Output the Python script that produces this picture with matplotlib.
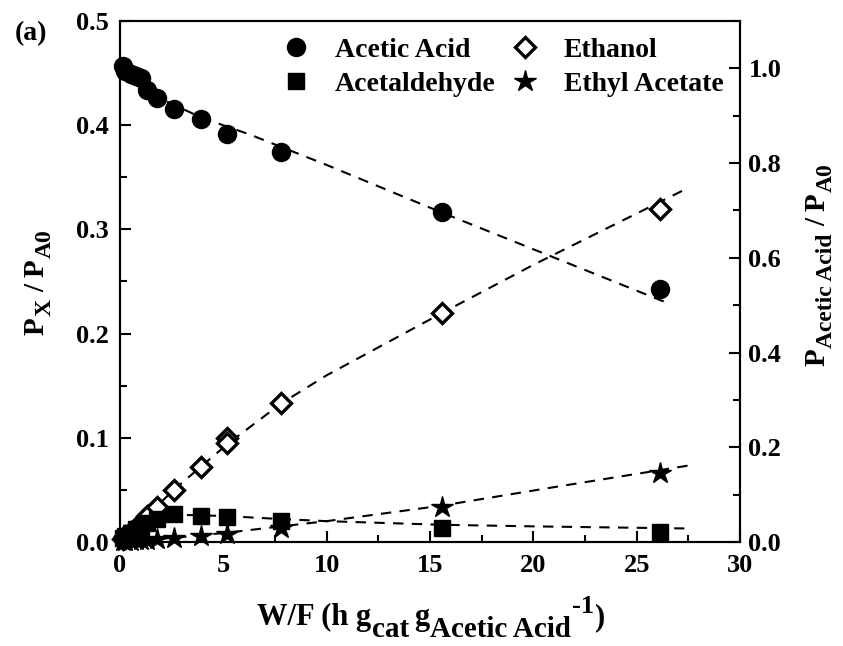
import numpy as np
import matplotlib
matplotlib.use("Agg")
import matplotlib.pyplot as plt
from matplotlib.ticker import MultipleLocator
from matplotlib.lines import Line2D
from matplotlib.transforms import IdentityTransform

plt.rcParams["font.family"] = ["Liberation Serif", "DejaVu Serif"]
plt.rcParams["font.weight"] = "bold"

# ----------------------------
# data
# ----------------------------
# W/F (h g_cat / g_acetic acid)
wf = [0.13, 0.26, 0.52, 0.78, 1.04, 1.3, 1.8, 2.6, 3.9, 5.2, 7.8, 15.6, 26.1]

# acetic acid, right axis units
acetic = [1.005, 0.994, 0.988, 0.983, 0.979, 0.955, 0.937, 0.915, 0.893, 0.862, 0.823, 0.697, 0.535]
# left axis units
acetaldehyde = [0.004, 0.006, 0.009, 0.012, 0.014, 0.018, 0.022, 0.027, 0.025, 0.024, 0.020, 0.013, 0.010]
ethyl_acetate = [0.001, 0.001, 0.001, 0.002, 0.002, 0.002, 0.003, 0.004, 0.006, 0.008, 0.013, 0.034, 0.066]

wf_eth = [0.13, 0.26, 0.52, 0.78, 1.04, 1.3, 1.8, 2.6, 3.9, 5.2, 5.2, 7.8, 15.6, 26.1]
ethanol = [0.003, 0.006, 0.010, 0.013, 0.018, 0.025, 0.034, 0.050, 0.072, 0.100, 0.095, 0.133, 0.220, 0.320]

# model fits (dashed)
fit_acetic_x = [0, 1, 2, 4, 6.3, 10, 15.6, 20, 26.4]
fit_acetic_y = [0.994, 0.968, 0.935, 0.895, 0.860, 0.796, 0.695, 0.618, 0.506]
fit_eth_x = [0, 2.6, 5.2, 7.8, 10, 15.6, 20, 27.3]
fit_eth_y = [0, 0.050, 0.094, 0.133, 0.160, 0.220, 0.266, 0.338]
fit_ald_x = [0, 0.5, 1, 2, 3, 5, 7.8, 10, 15.6, 20, 27.3]
fit_ald_y = [0, 0.010, 0.017, 0.024, 0.026, 0.025, 0.022, 0.020, 0.0165, 0.015, 0.013]
fit_ea_x = [0, 2.6, 5.2, 7.8, 10, 15.6, 20.8, 27.7]
fit_ea_y = [0, 0.004, 0.009, 0.015, 0.020, 0.035, 0.052, 0.074]


def rich_text(fig, pieces, center, base, rotation=0):
    """Lay out (text, size, baseline shift px, gap px) pieces in a row, in pixels."""
    renderer = fig.canvas.get_renderer()
    arts = []
    for s, size, dy, gap in pieces:
        t = fig.text(0, 0, s, fontsize=size, fontweight="bold", rotation=rotation,
                     rotation_mode="anchor", ha="left", va="baseline",
                     transform=IdentityTransform())
        bb = t.get_window_extent(renderer)
        adv = bb.height if rotation else bb.width
        arts.append((t, dy, gap, adv))
    total = sum(g + a for _, _, g, a in arts)
    pos = center - total / 2
    for t, dy, gap, adv in arts:
        pos += gap
        if rotation:
            t.set_position((base - dy, pos))
        else:
            t.set_position((pos, base + dy))
        pos += adv


# ----------------------------
# plot
# ----------------------------
fig = plt.figure(figsize=(8.43, 6.46), dpi=100)
ax = fig.add_axes([0.1423, 0.161, 0.7357, 0.8065])
ax2 = ax.twinx()

dash = (0, (5, 4))
lw = 1.5

ax2.plot(fit_acetic_x, fit_acetic_y, color="black", lw=lw, ls=dash)
ax.plot(fit_eth_x, fit_eth_y, color="black", lw=lw, ls=dash)
ax.plot(fit_ald_x, fit_ald_y, color="black", lw=lw, ls=dash)
ax.plot(fit_ea_x, fit_ea_y, color="black", lw=lw, ls=dash)

ax2.plot(wf, acetic, "o", color="black", ms=13, clip_on=False)
ax.plot(wf_eth, ethanol, "D", mfc="white", mec="black", mew=2.4, ms=10, clip_on=False)
ax.plot(wf, acetaldehyde, "s", color="black", ms=12, clip_on=False)
ax.plot(wf, ethyl_acetate, "*", color="black", ms=16, clip_on=False)

ax.set_xlim(0, 30)
ax.set_ylim(0, 0.5)
ax2.set_ylim(0, 1.1)

ax.xaxis.set_major_locator(MultipleLocator(5))
ax.xaxis.set_minor_locator(MultipleLocator(2.5))
ax.yaxis.set_major_locator(MultipleLocator(0.1))
ax.yaxis.set_minor_locator(MultipleLocator(0.05))
ax2.yaxis.set_major_locator(MultipleLocator(0.2))
ax2.yaxis.set_minor_locator(MultipleLocator(0.1))

ax.xaxis.set_major_formatter(lambda v, p: f"{v:.0f}")
ax.yaxis.set_major_formatter(lambda v, p: f"{v:.1f}")
ax2.yaxis.set_major_formatter(lambda v, p: f"{v:.1f}")

for a in (ax, ax2):
    for s in a.spines.values():
        s.set_linewidth(1.5)
ax.tick_params(axis="x", which="major", direction="in", length=8, width=1.5,
               labelsize=19, top=False, pad=9)
ax.tick_params(axis="y", which="major", direction="in", length=8, width=1.5,
               labelsize=19, right=False, pad=8)
ax.tick_params(axis="both", which="minor", direction="in", length=5, width=1.5,
               top=False, right=False)
ax2.tick_params(axis="y", which="major", direction="in", length=8, width=1.5,
                labelsize=19, pad=6)
ax2.tick_params(axis="y", which="minor", direction="in", length=5, width=1.5)
for lab in ax.get_xticklabels() + ax.get_yticklabels() + ax2.get_yticklabels():
    lab.set_fontweight("bold")

handles = [
    Line2D([], [], ls="none", marker="o", color="black", ms=13),
    Line2D([], [], ls="none", marker="s", color="black", ms=12),
    Line2D([], [], ls="none", marker="D", mfc="white", mec="black", mew=2.4, ms=10),
    Line2D([], [], ls="none", marker="*", color="black", ms=16),
]
labels = ["Acetic Acid", "Acetaldehyde", "Ethanol", "Ethyl Acetate"]
ax2.legend(handles, labels, ncol=2, frameon=False, loc="upper right",
           bbox_to_anchor=(1.0, 1.0), handletextpad=0.6, handlelength=1.6,
           columnspacing=0.25, labelspacing=0.3, borderaxespad=0.2,
           prop={"weight": "bold", "size": 20})

# axis titles with Times-like large sub/superscripts (pixel layout)
rich_text(fig, [("W/F (h g", 22, 0, 0), ("cat", 21, -12, 1), ("g", 22, 0, 5),
                ("Acetic Acid", 21, -12, 1), ("-1", 19, 12, 1), (")", 22, 0, 1)],
          center=431, base=21)
rich_text(fig, [("P", 21, 0, 0), ("X", 17, -7, 1), ("/", 21, 0, 7),
                ("P", 21, 0, 7), ("A0", 17, -7, 1)],
          center=646 - 282, base=44, rotation=90)
rich_text(fig, [("P", 21, 0, 0), ("Acetic Acid", 17, -7, 1), ("/", 21, 0, 7),
                ("P", 21, 0, 7), ("A0", 17, -7, 1)],
          center=646 - 265, base=825, rotation=90)

fig.text(0.018, 0.968, "(a)", fontsize=20, fontweight="bold", va="top")

fig.savefig("out.png", dpi=100)
